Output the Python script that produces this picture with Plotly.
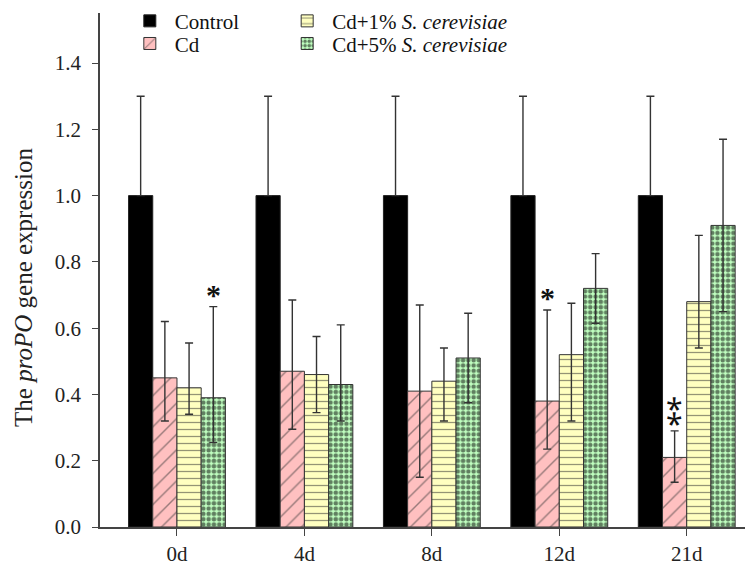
import plotly.graph_objects as go

days = ["0d", "4d", "8d", "12d", "21d"]
series_names = ["Control", "Cd", "Cd+1% <i>S. cerevisiae</i>", "Cd+5% <i>S. cerevisiae</i>"]

control = [1.0, 1.0, 1.0, 1.0, 1.0]
control_err_up = [0.30, 0.30, 0.30, 0.30, 0.30]

cd = [0.45, 0.47, 0.41, 0.38, 0.21]
cd_err_up = [0.17, 0.215, 0.26, 0.275, 0.08]
cd_err_down = [0.13, 0.175, 0.26, 0.145, 0.075]

cd1 = [0.42, 0.46, 0.44, 0.52, 0.68]
cd1_err_up = [0.135, 0.115, 0.10, 0.155, 0.20]
cd1_err_down = [0.08, 0.115, 0.12, 0.20, 0.14]

cd5 = [0.39, 0.43, 0.51, 0.72, 0.91]
cd5_err_up = [0.275, 0.18, 0.135, 0.105, 0.26]
cd5_err_down = [0.135, 0.11, 0.135, 0.105, 0.26]

# significance marks: (day index, series index, label)
signif = [(0, 3, "*"), (3, 1, "*"), (4, 1, "\u2051")]

FONT = "Liberation Serif, Times New Roman, Times, serif"
x = list(range(len(days)))
BAR_W = 0.19
offsets = [-1.5 * BAR_W, -0.5 * BAR_W, 0.5 * BAR_W, 1.5 * BAR_W]

fig = go.Figure()

err_style = dict(type="data", symmetric=False, color="#333333", thickness=1.4, width=4)

fig.add_trace(go.Bar(
    x=x, y=control, name=series_names[0], legend="legend",
    marker=dict(color="black", line=dict(color="#222", width=1)),
    error_y=dict(array=control_err_up, arrayminus=[0]*5, **err_style),
))
fig.add_trace(go.Bar(
    x=x, y=cd, name=series_names[1], legend="legend2",
    marker=dict(color="#FFC0C0", line=dict(color="#333", width=1),
                pattern=dict(shape="/", fgcolor="#333", bgcolor="#FFC0C0", size=11, solidity=0.13)),
    error_y=dict(array=cd_err_up, arrayminus=cd_err_down, **err_style),
))
fig.add_trace(go.Bar(
    x=x, y=cd1, name=series_names[2], legend="legend3",
    marker=dict(color="#FFFFC0", line=dict(color="#333", width=1),
                pattern=dict(shape="-", fgcolor="#2a2a2a", bgcolor="#FFFFC0", size=7, solidity=0.18)),
    error_y=dict(array=cd1_err_up, arrayminus=cd1_err_down, **err_style),
))
fig.add_trace(go.Bar(
    x=x, y=cd5, name=series_names[3], legend="legend4",
    marker=dict(color="#C0FFC0", line=dict(color="#333", width=1),
                pattern=dict(shape=".", fgcolor="black", bgcolor="#C0FFC0", size=5.3, solidity=0.55)),
    error_y=dict(array=cd5_err_up, arrayminus=cd5_err_down, **err_style),
))

vals = [control, cd, cd1, cd5]
ups = [control_err_up, cd_err_up, cd1_err_up, cd5_err_up]
for di, si, lab in signif:
    double = lab != "*"
    fig.add_annotation(
        x=x[di] + offsets[si], y=vals[si][di] + ups[si][di],
        text=lab, showarrow=False, yanchor="middle",
        yshift=21 if double else 12,
        font=dict(family=FONT, size=30, color="#111", weight="normal" if double else "bold"),
    )

fig.add_annotation(
    xref="paper", yref="paper", x=-0.1164, y=0.467, xanchor="center", yanchor="middle",
    text="The <i>proPO</i> gene expression", textangle=-90, showarrow=False,
    font=dict(family=FONT, size=25, color="#222"),
)

leg_common = dict(xanchor="left", yanchor="middle", bgcolor="rgba(0,0,0,0)",
                  font=dict(family=FONT, size=21, color="#111"), itemwidth=40,
                  borderwidth=0)
fig.update_layout(
    width=745, height=566,
    margin=dict(l=92, r=0, t=5, b=47, autoexpand=False),
    paper_bgcolor="white", plot_bgcolor="white",
    barmode="group", bargap=0.24, bargroupgap=0,
    font=dict(family=FONT, size=19, color="#222"),
    showlegend=True,
    legend=dict(x=0.038, y=0.984, **leg_common),
    legend2=dict(x=0.038, y=0.940, **leg_common),
    legend3=dict(x=0.279, y=0.984, **leg_common),
    legend4=dict(x=0.279, y=0.940, **leg_common),
    xaxis=dict(range=[-0.604, 4.52], tickvals=x, ticktext=days, showline=True, linecolor="#444",
               linewidth=1.5, ticks="outside", ticklen=7, tickcolor="#444", showgrid=False,
               zeroline=False, tickfont=dict(family=FONT, size=21, color="#222")),
    yaxis=dict(range=[0, 1.551], tickvals=[0, 0.2, 0.4, 0.6, 0.8, 1.0, 1.2, 1.4],
               ticktext=["0.0", "0.2", "0.4", "0.6", "0.8", "1.0", "1.2", "1.4"],
               showline=True, linecolor="#444", linewidth=1.5, ticks="outside", ticklen=6,
               tickcolor="#444", showgrid=False, zeroline=False, ticklabelstandoff=7,
               tickfont=dict(family=FONT, size=21, color="#222")),
)

fig.write_html("out.html")
